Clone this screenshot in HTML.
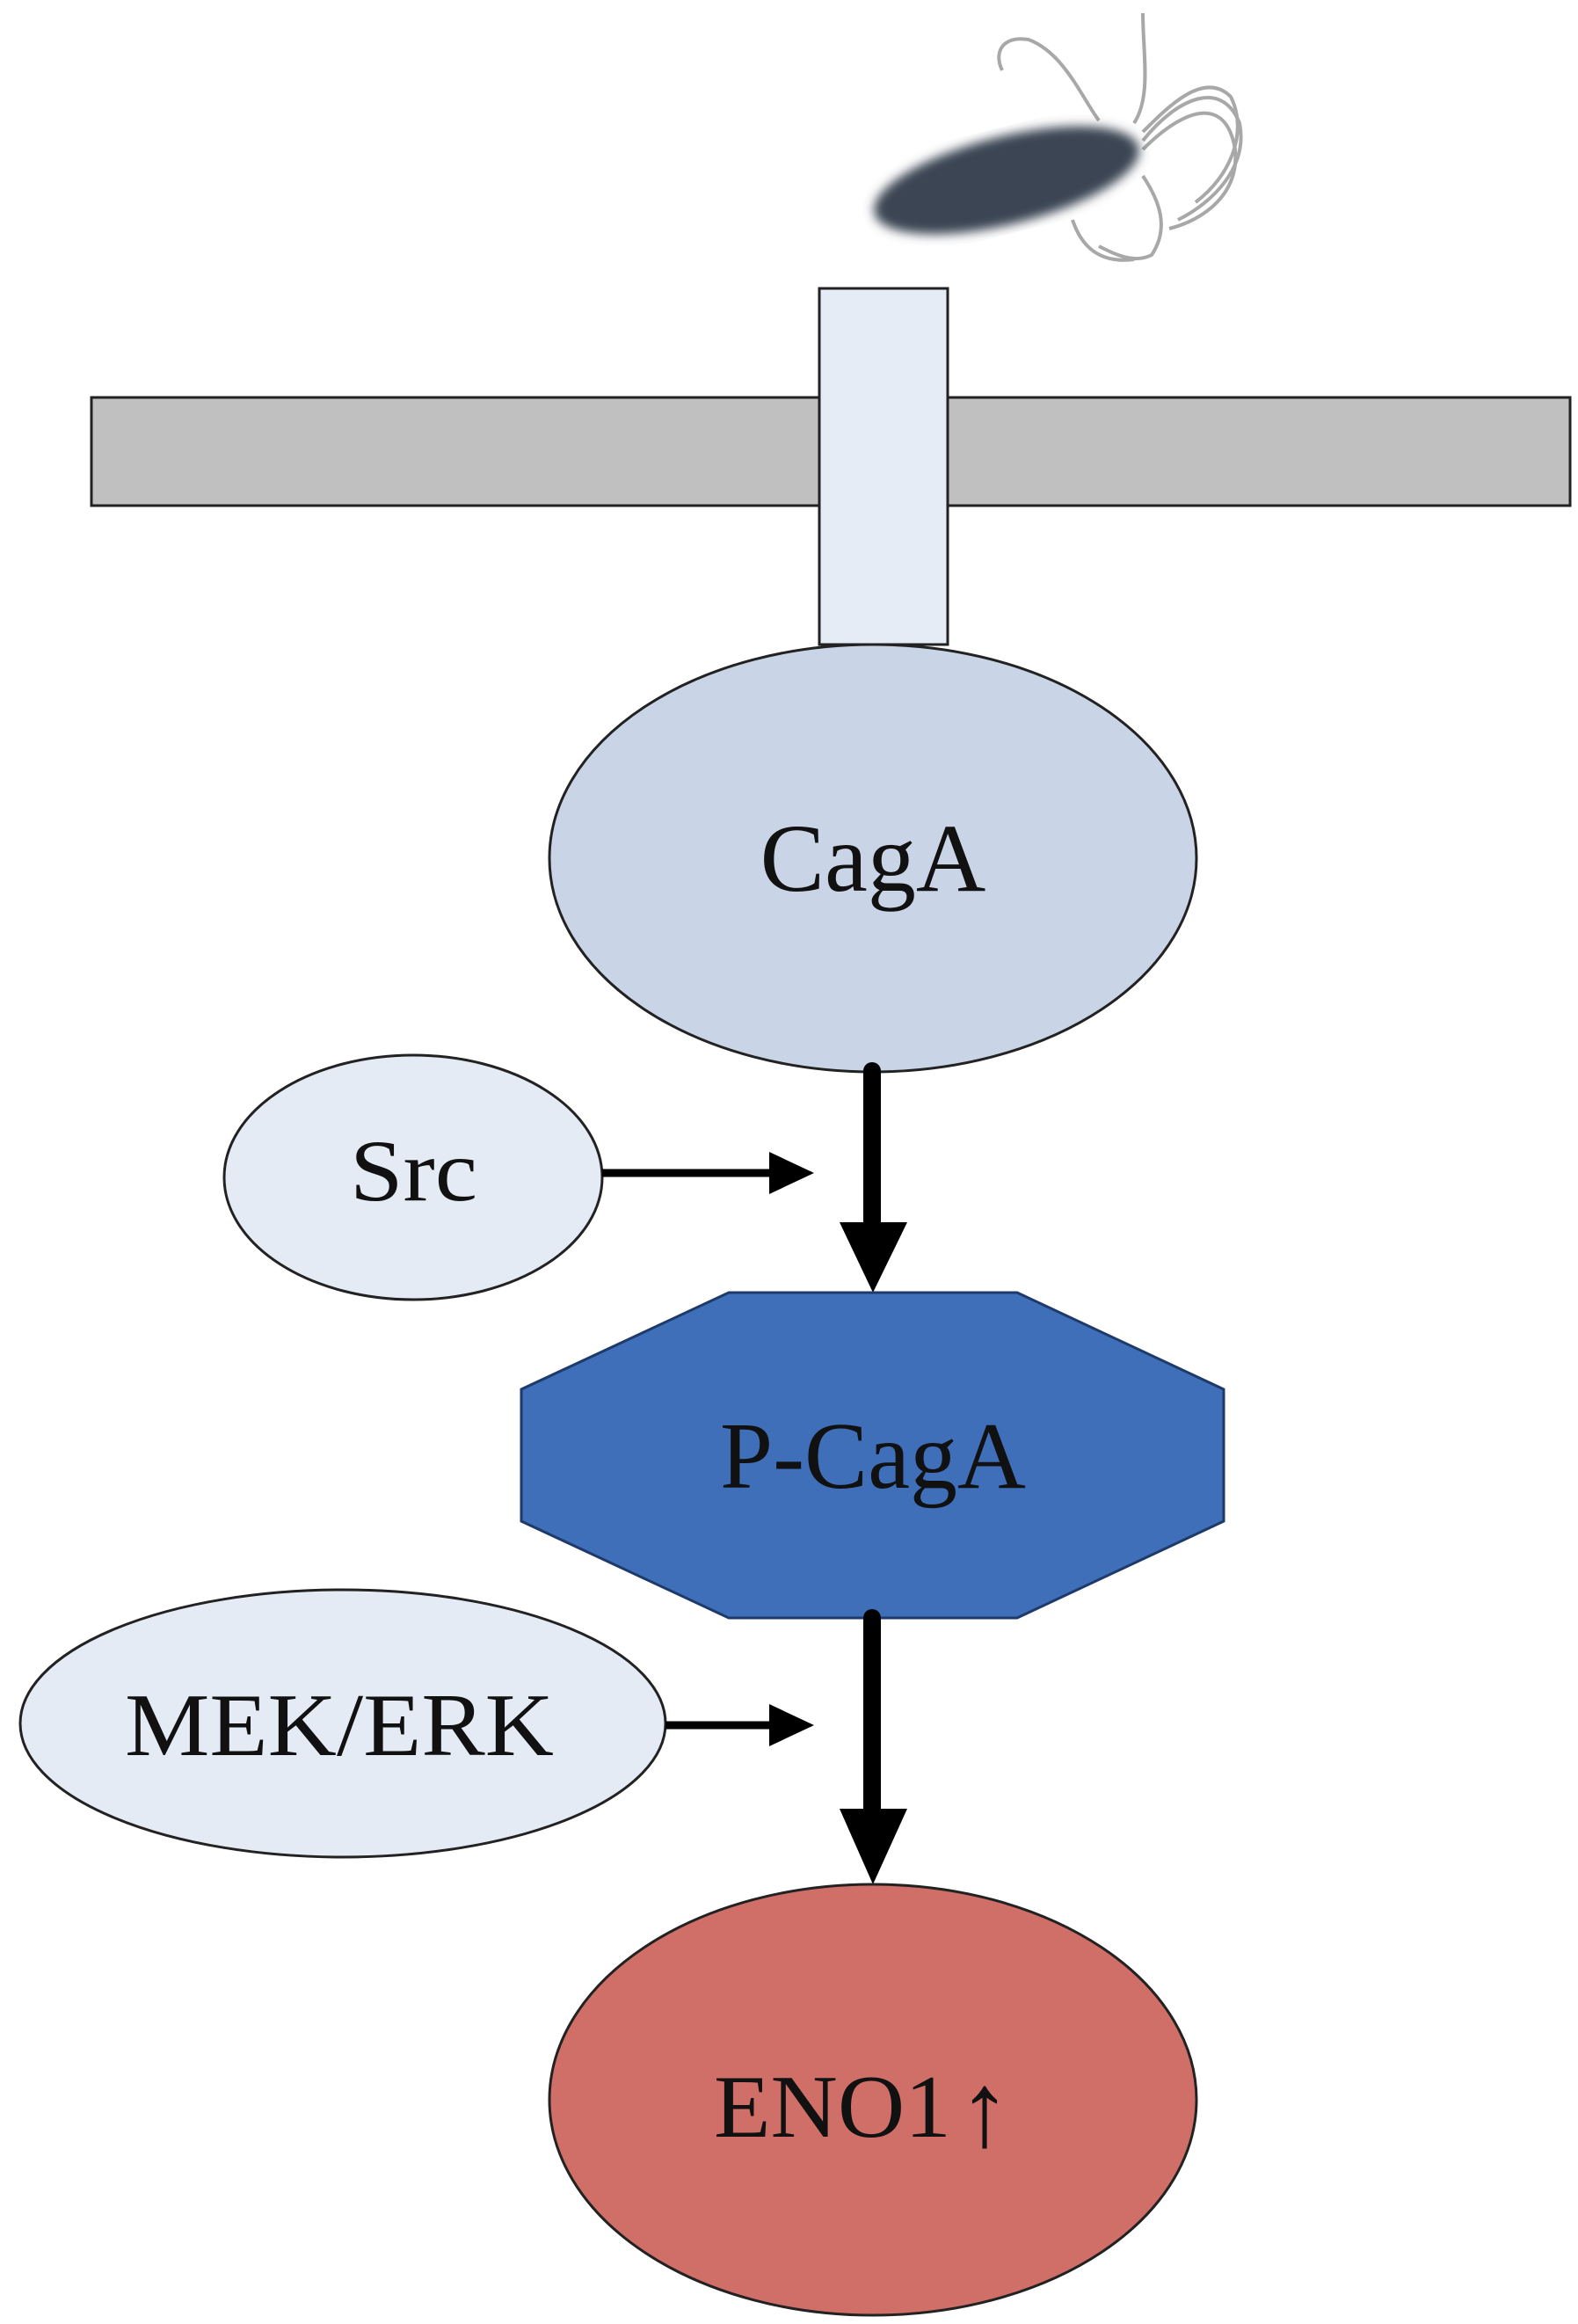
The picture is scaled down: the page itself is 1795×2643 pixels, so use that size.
<!DOCTYPE html>
<html><head><meta charset="utf-8"><style>
html,body{margin:0;padding:0;background:#fff}
svg{display:block}
text{font-family:"Liberation Serif",serif;fill:#111}
</style></head><body>
<svg width="1795" height="2643" viewBox="0 0 1795 2643" xmlns="http://www.w3.org/2000/svg">
<defs><filter id="bl"><feGaussianBlur stdDeviation="6"/></filter></defs>
<!-- bacterium -->
<g fill="none" stroke="#a8a8a8" stroke-width="4">
<path d="M1250 137 C1230 110 1210 60 1170 45 C1140 40 1130 60 1140 80"/>
<path d="M1290 140 C1310 110 1300 60 1300 15"/>
<path d="M1300 150 C1330 120 1370 80 1400 110 C1420 150 1400 200 1360 230"/>
<path d="M1300 160 C1340 110 1390 90 1410 140 C1420 190 1380 230 1340 250"/>
<path d="M1300 170 C1350 120 1395 110 1405 170 C1410 220 1370 250 1330 260"/>
<path d="M1300 200 C1320 230 1330 260 1310 290 C1290 300 1270 290 1250 280"/>
<path d="M1220 250 C1230 280 1250 300 1290 295"/>
</g>
<ellipse cx="1145" cy="205" rx="155" ry="50" transform="rotate(-14 1145 205)" fill="#3a4452" filter="url(#bl)"/>
<!-- membrane -->
<rect x="104" y="452" width="1682" height="123" fill="#c0c0c0" stroke="#222" stroke-width="3"/>
<rect x="932" y="328" width="146" height="405" fill="#e6ecf6" stroke="#222" stroke-width="3"/>
<!-- CagA -->
<ellipse cx="993" cy="976" rx="368" ry="243" fill="#c9d5e6" stroke="#222" stroke-width="3"/>
<text x="993" y="1013" font-size="110" text-anchor="middle">CagA</text>
<!-- Src -->
<ellipse cx="470" cy="1339" rx="215" ry="139" fill="#e5ebf5" stroke="#222" stroke-width="3"/>
<text x="398" y="1365" font-size="100" textLength="145" lengthAdjust="spacingAndGlyphs">Src</text>
<line x1="685" y1="1334" x2="880" y2="1334" stroke="#000" stroke-width="9"/>
<polygon points="875,1310 926,1334 875,1358" fill="#000"/>
<!-- arrow 1 -->
<line x1="992" y1="1218" x2="992" y2="1395" stroke="#000" stroke-width="20" stroke-linecap="round"/>
<polygon points="955,1390 1032,1390 993,1470" fill="#000"/>
<!-- octagon -->
<polygon points="829,1470 1157,1470 1392,1580 1392,1730 1157,1840 829,1840 593,1730 593,1580" fill="#3f6fb8" stroke="#1e3a6a" stroke-width="3"/>
<text x="993" y="1692" font-size="108" text-anchor="middle">P-CagA</text>
<!-- arrow 2 -->
<line x1="992" y1="1840" x2="992" y2="2062" stroke="#000" stroke-width="20" stroke-linecap="round"/>
<polygon points="955,2057 1032,2057 993,2143" fill="#000"/>
<!-- MEK/ERK -->
<ellipse cx="390" cy="1960" rx="367" ry="152" fill="#e5ebf5" stroke="#222" stroke-width="3"/>
<text x="142" y="1996" font-size="102" textLength="488" lengthAdjust="spacingAndGlyphs">MEK/ERK</text>
<line x1="757" y1="1962" x2="880" y2="1962" stroke="#000" stroke-width="9"/>
<polygon points="875,1938 926,1962 875,1986" fill="#000"/>
<!-- ENO1 -->
<ellipse cx="993" cy="2388" rx="368" ry="245" fill="#d06e68" stroke="#222" stroke-width="3"/>
<text x="812" y="2430" font-size="102" textLength="270" lengthAdjust="spacingAndGlyphs">ENO1</text>
<text x="1090" y="2440" font-size="120">↑</text>
</svg>
</body></html>
